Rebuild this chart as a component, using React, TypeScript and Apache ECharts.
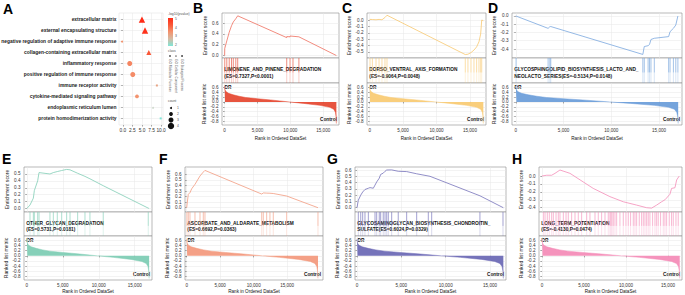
import React, { useEffect, useRef } from "react";
import * as echarts from "echarts";

// ---------------- Panel A : GO dot plot ----------------
const GO_TERMS = [
  "extracellular matrix",
  "external encapsulating structure",
  "negative regulation of adaptive immune response",
  "collagen-containing extracellular matrix",
  "inflammatory response",
  "positive regulation of immune response",
  "immune receptor activity",
  "cytokine-mediated signaling pathway",
  "endoplasmic reticulum lumen",
  "protein homodimerization activity",
];
const GO_X = [5.0, 5.8, -0.2, 6.8, 1.8, 2.6, 8.9, 3.7, 7.9, 9.9];
const GO_LOGP = [5.0, 4.9, 3.5, 4.3, 3.7, 3.6, 3.2, 3.5, 2.5, 2.0];
const GO_COUNT = [4, 4, 1, 3, 3, 3, 1, 2, 1, 1];
// 0 = BP, 1 = CC, 2 = MF
const GO_CLASS = [1, 1, 0, 1, 0, 0, 2, 0, 1, 2];
const CLASS_NAMES = ["GO Biological Process", "GO Cellular Component", "GO Molecular Function"];
const A_X_TICKS = [0, 2.5, 5, 7.5, 10];
const LOGP_TICKS = [5, 4, 3, 2];
const COUNT_TICKS = [1, 2, 3, 4];

// ---------------- GSEA shared ranked list metric (rank, metric) ----------------
const RANKED_METRIC = [
  [0, 0.66], [60, 0.5], [200, 0.42], [600, 0.35], [1300, 0.29], [2200, 0.23], [3200, 0.18],
  [5000, 0.13], [7000, 0.08], [9800, 0.0], [12000, -0.06], [14500, -0.14], [16000, -0.22],
  [16600, -0.3], [16850, -0.42], [16950, -0.6], [17000, -0.88],
];
const RANKED_N = 17000;
const RANK_TICKS = [0, 5000, 10000, 15000];
const METRIC_TICKS = [-0.8, -0.6, -0.4, -0.2, 0, 0.2, 0.4, 0.6];

// ---------------- B ----------------
const B_TITLE = ["LIMONENE_AND_PINENE_DEGRADATION", "(ES=0.7327,P<0.0001)"];
const B_ES = [
  [0, 0], [20, 0.13], [330, 0.27], [700, 0.43], [1050, 0.55], [1320, 0.62], [1700, 0.68], [1990, 0.733],
  [9450, 0.33], [9450, 0.35], [9950, 0.345], [9950, 0.36], [10400, 0.355], [10400, 0.365],
  [11300, 0.345], [11300, 0.355], [17000, 0],
];
const B_HITS = [20, 330, 700, 1050, 1320, 1700, 1990, 9450, 9950, 10400, 11300];
const B_ES_TICKS = [0, 0.2, 0.4, 0.6];

// ---------------- C ----------------
const C_TITLE = ["DORSO_VENTRAL_AXIS_FORMATION", "(ES=-0.9064,P=0.0048)"];
const C_ES = [
  [0, 0], [50, 0.01], [400, 0.008], [950, 0.004], [1400, 0.01], [1840, 0.004], [2290, 0.04], [2590, 0.075],
  [14300, -0.54], [14700, -0.535], [15150, -0.51], [15600, -0.47], [16000, -0.42], [16350, -0.34],
  [16600, -0.22], [16760, 0.0], [17000, -0.01],
];
const C_HITS = [50, 400, 950, 1400, 1840, 2290, 2590, 14300, 14700, 15150, 15600, 16000, 16350, 16600, 16760];
const C_ES_TICKS = [-0.5, -0.4, -0.3, -0.2, -0.1, 0];

// ---------------- D ----------------
const D_TITLE = ["GLYCOSPHINGOLIPID_BIOSYNTHESIS_LACTO_AND_", "NEOLACTO_SERIES(ES=-0.5134,P=0.0148)"];
const D_ES = [
  [0, 0], [30, 0.002], [3380, -0.15], [3560, -0.13], [3660, -0.128], [13300, -0.466], [13450, -0.37],
  [13850, -0.36], [14000, -0.345], [14150, -0.285], [14500, -0.27], [16000, -0.25], [16150, -0.19],
  [16500, -0.15], [16750, -0.11], [16970, 0.0], [17000, 0.0],
];
const D_HITS = [30, 3380, 3560, 3660, 13300, 13450, 13850, 14000, 14150, 14500, 16000, 16150, 16500, 16750, 16970];
const D_ES_TICKS = [-0.4, -0.3, -0.2, -0.1, 0];

// ---------------- E ----------------
const E_TITLE = ["OTHER_GLYCAN_DEGRADATION", "(ES=0.5731,P=0.0181)"];
const E_ES = [
  [0, 0], [435, 0.05], [900, 0.15], [1040, 0.26], [1500, 0.4], [1690, 0.52], [3210, 0.5], [3680, 0.52],
  [4230, 0.535], [4840, 0.55], [5530, 0.566], [6000, 0.56], [7060, 0.51], [8080, 0.465], [8770, 0.43],
  [10620, 0.33], [16880, 0.005], [17000, 0],
];
const E_HITS = [435, 900, 1040, 1500, 1690, 3210, 3680, 4230, 4840, 5530, 6000, 7060, 8080, 8770, 10620, 16880];
const E_ES_TICKS = [0, 0.1, 0.2, 0.3, 0.4, 0.5];

// ---------------- F ----------------
const F_TITLE = ["ASCORBATE_AND_ALDARATE_METABOLISM", "(ES=0.6692,P=0.0363)"];
const F_ES = [
  [0, 0], [240, 0.24], [490, 0.27], [750, 0.34], [1240, 0.42], [1990, 0.57], [2480, 0.64], [2730, 0.67],
  [11200, 0.245], [11440, 0.265], [11940, 0.262], [12430, 0.26], [12930, 0.255], [14930, 0.21], [19600, 0],
];
const F_HITS = [30, 240, 490, 1240, 1990, 2480, 2730, 11200, 11440, 11940, 12430, 12930, 14930, 19600];
const F_ES_TICKS = [0, 0.1, 0.2, 0.3, 0.4, 0.5, 0.6];

// ---------------- G ----------------
const G_TITLE = ["GLYCOSAMINOGLYCAN_BIOSYNTHESIS_CHONDROITIN_", "SULFATE(ES=0.6024,P=0.0329)"];
const G_ES = [
  [0, 0], [150, 0.12], [420, 0.2], [640, 0.25], [900, 0.29], [1280, 0.31], [1465, 0.32], [1840, 0.31],
  [2030, 0.36], [2220, 0.41], [2510, 0.47], [2670, 0.53], [2960, 0.55], [3160, 0.58], [3350, 0.6],
  [3910, 0.602], [4650, 0.58], [5600, 0.575], [6730, 0.54], [8230, 0.5], [13860, 0.19], [13860, 0.2], [16500, 0],
];
const G_HITS = [150, 420, 640, 900, 1280, 2030, 2220, 2510, 2670, 2960, 3160, 3350, 3530, 3910, 4650, 5600, 6730, 8040, 8420, 13860, 16460];
const G_ES_TICKS = [0, 0.1, 0.2, 0.3, 0.4, 0.5, 0.6];

// ---------------- H ----------------
const H_TITLE = ["LONG_TERM_POTENTIATION", "(ES=-0.4130,P=0.0474)"];
const H_ES = [
  [0, 0], [560, 0.01], [1150, 0.01], [1550, 0.034], [2140, 0.076], [2740, 0.055], [3330, 0.034],
  [6100, -0.156], [8090, -0.26], [9680, -0.325], [11270, -0.367], [12460, -0.4], [13050, -0.405],
  [13650, -0.367], [14240, -0.325], [14640, -0.3], [15230, -0.23], [15430, -0.156], [15830, -0.148],
  [16030, -0.05], [16340, 0.0], [16400, 0.0],
];
const H_HITS = [
  160, 360, 630, 870, 1150, 1350, 1670, 1940, 2140, 2540, 2860, 3130, 3530, 3930, 4320, 4720, 5320, 5710,
  6310, 6700, 7100, 7500, 7890, 8090, 8210, 8330, 8490, 8690, 8890, 9280, 9680, 10000, 10270, 10550, 10870,
  11070, 11270, 11580, 11860, 12060, 12260, 12460, 12650, 12850, 13170, 13450, 13650, 13840, 14120, 14440,
  14640, 14840, 15150, 15430, 15630, 15950, 16220,
];
const H_ES_TICKS = [-0.4, -0.3, -0.2, -0.1, 0];

// ---------------- layout / style ----------------
const FONT = "'Liberation Sans', Arial, Helvetica, sans-serif";
const ROWS = [
  { esTop: 13, esH: 45, hitsH: 25, rankH: 42, xNameGap: 10.5, letterY: 0.5 },
  { esTop: 167, esH: 45, hitsH: 24, rankH: 44, xNameGap: 8.5, letterY: 151.5 },
];
const METRIC_RANGE = [-0.94, 0.77];

const PANELS = [
  { letter: "B", row: 0, left: 222, right: 339, letterX: 193, color: "#E64B35", lineColor: "#EF6F5E", title: B_TITLE, es: B_ES, hits: B_HITS, esTicks: B_ES_TICKS, esRange: [-0.046, 0.785], n: 17000, xRange: [-400, 17400] },
  { letter: "C", row: 0, left: 367, right: 486, letterX: 342, color: "#F9CB75", lineColor: "#F7C86E", title: C_TITLE, es: C_ES, hits: C_HITS, esTicks: C_ES_TICKS, esRange: [-0.594, 0.11], n: 17000, xRange: [-400, 17400] },
  { letter: "D", row: 0, left: 512, right: 682, letterX: 488, color: "#6E9FDA", lineColor: "#7AA7DE", title: D_TITLE, es: D_ES, hits: D_HITS, esTicks: D_ES_TICKS, esRange: [-0.509, 0.036], n: 17000, xRange: [-400, 17400] },
  { letter: "E", row: 1, left: 24, right: 152, letterX: 2, color: "#80CDB5", lineColor: "#80CDB5", title: E_TITLE, es: E_ES, hits: E_HITS, esTicks: E_ES_TICKS, esRange: [-0.051, 0.601], n: 17000, xRange: [-400, 17400] },
  { letter: "F", row: 1, left: 185, right: 323, letterX: 159, color: "#F39B7F", lineColor: "#F39B7F", title: F_TITLE, es: F_ES, hits: F_HITS, esTicks: F_ES_TICKS, esRange: [-0.077, 0.731], n: 19600, xRange: [-250, 20350] },
  { letter: "G", row: 1, left: 355, right: 506, letterX: 327, color: "#6E6BB6", lineColor: "#7672BA", title: G_TITLE, es: G_ES, hits: G_HITS, esTicks: G_ES_TICKS, esRange: [-0.068, 0.648], n: 16500, xRange: [-225, 16800] },
  { letter: "H", row: 1, left: 539, right: 682, letterX: 512, color: "#F48DB8", lineColor: "#F48DB8", title: H_TITLE, es: H_ES, hits: H_HITS, esTicks: H_ES_TICKS, esRange: [-0.454, 0.114], n: 16400, xRange: [-357, 16670] },
];

const LOGP_COLORS = ["#7FE6D7", "#D4BBA4", "#F3946F", "#F95A39", "#FF2B16"];
const CLASS_SYMBOL = ["circle", "triangle", "rect"];
const COUNT_SIZE = [0, 2, 3.8, 5, 6.4];

const GRID_BASE = { show: true, backgroundColor: "#ffffff", borderColor: "#8c8c8c", borderWidth: 0.6, outerBoundsMode: "none", containLabel: false };
const GRIDLINE = { show: true, lineStyle: { color: "#e6e6e6", width: 0.5, type: "solid" } };
const TICK = { show: true, length: 1.6, lineStyle: { color: "#555", width: 0.5 } };

function fmt1(v: number) {
  const r = Math.round(v * 10) / 10;
  return (Math.abs(r) < 1e-9 ? 0 : r).toFixed(1);
}
function fmtRank(v: number) {
  return Math.round(v).toLocaleString("en-US");
}

function txt(x: number, y: number, text: string, o: any = {}) {
  return {
    type: "text",
    x,
    y,
    rotation: o.rotation || 0,
    silent: true,
    style: {
      text,
      fill: o.fill || "#1a1a1a",
      fontSize: o.fontSize || 5,
      fontWeight: o.fontWeight || "normal",
      fontFamily: FONT,
      align: o.align || "left",
      verticalAlign: o.verticalAlign || "middle",
    },
  };
}

function buildOption() {
  const grids: any[] = [];
  const xAxes: any[] = [];
  const yAxes: any[] = [];
  const series: any[] = [];
  const graphics: any[] = [];

  // ---------- Panel A ----------
  grids.push({ ...GRID_BASE, left: 119, top: 13, width: 44, height: 112, borderColor: "#dedede", borderWidth: 0.5 });
  xAxes.push({
    gridIndex: 0, type: "value", min: -1, max: 10.5,
    axisLine: { show: false },
    axisTick: { ...TICK, customValues: A_X_TICKS },
    axisLabel: { customValues: A_X_TICKS, formatter: (v: number) => v.toFixed(1), fontSize: 4.8, color: "#333", margin: 2.5, fontFamily: FONT },
    splitLine: GRIDLINE,
  });
  const rowTicks = GO_TERMS.map((_, i) => i + 1);
  yAxes.push({
    gridIndex: 0, type: "value", min: 0.4, max: GO_TERMS.length + 0.6, inverse: true,
    axisLine: { show: false },
    axisTick: { ...TICK, customValues: rowTicks },
    axisLabel: {
      customValues: rowTicks,
      formatter: (v: number) => GO_TERMS[Math.round(v) - 1] || "",
      fontSize: 4.9, fontWeight: "bold", color: "#1a1a1a", margin: 2.5, fontFamily: FONT,
    },
    splitLine: GRIDLINE,
  });
  series.push({
    type: "scatter", xAxisIndex: 0, yAxisIndex: 0, silent: true,
    data: GO_TERMS.map((_, i) => [GO_X[i], i + 1, GO_LOGP[i], GO_COUNT[i], GO_CLASS[i]]),
    symbol: (v: number[]) => CLASS_SYMBOL[v[4]],
    symbolSize: (v: number[]) => COUNT_SIZE[v[3]],
    itemStyle: { opacity: 1 },
  });

  // A legends
  graphics.push(txt(3, 1.5, "A", { fontSize: 14, fontWeight: "bold", verticalAlign: "top", fill: "#000" }));
  graphics.push(txt(168, 13.5, "-log10(pvalue)", { fontSize: 3.4, fill: "#555" }));
  const cbTop = 18, cbH = 28, cbLo = 1.85, cbHi = 5.15;
  graphics.push({
    type: "rect", silent: true,
    shape: { x: 168, y: cbTop, width: 5, height: cbH },
    style: {
      fill: new echarts.graphic.LinearGradient(0, 0, 0, 1,
        LOGP_COLORS.slice().reverse().map((c, i, a) => ({ offset: i / (a.length - 1), color: c }))),
    },
  });
  LOGP_TICKS.forEach((v) => {
    const y = cbTop + ((cbHi - v) / (cbHi - cbLo)) * cbH;
    graphics.push(txt(175, y, String(v), { fontSize: 3.4, fill: "#555" }));
  });
  graphics.push(txt(168, 51, "class", { fontSize: 3.4, fill: "#555" }));
  // MF left, CC middle, BP right
  const classOrder = [2, 1, 0];
  classOrder.forEach((c, k) => {
    const x = 170 + k * 6;
    if (c === 0) graphics.push({ type: "circle", silent: true, shape: { cx: x, cy: 56, r: 0.8 }, style: { fill: "#222" } });
    if (c === 1) graphics.push({ type: "polygon", silent: true, shape: { points: [[x, 55], [x - 0.9, 56.6], [x + 0.9, 56.6]] }, style: { fill: "#222" } });
    if (c === 2) graphics.push({ type: "rect", silent: true, shape: { x: x - 0.75, y: 55.25, width: 1.5, height: 1.5 }, style: { fill: "#222" } });
    graphics.push(txt(x, 59, CLASS_NAMES[c], { fontSize: 3.2, fill: "#555", rotation: -Math.PI / 2 }));
  });
  graphics.push(txt(168, 101, "count", { fontSize: 3.4, fill: "#555" }));
  COUNT_TICKS.forEach((c, k) => {
    const y = 108 + k * 6;
    graphics.push({ type: "circle", silent: true, shape: { cx: 171, cy: y, r: COUNT_SIZE[c] / 2 }, style: { fill: "#111" } });
    graphics.push(txt(177, y, String(c), { fontSize: 3.4, fill: "#555" }));
  });

  // ---------- GSEA panels ----------
  PANELS.forEach((p) => {
    const row = ROWS[p.row];
    const W = p.right - p.left;
    const hitsTop = row.esTop + row.esH;
    const rankTop = hitsTop + row.hitsH;
    const gi = grids.length;

    grids.push({ ...GRID_BASE, left: p.left, top: row.esTop, width: W, height: row.esH });
    grids.push({ ...GRID_BASE, left: p.left, top: hitsTop, width: W, height: row.hitsH });
    grids.push({ ...GRID_BASE, left: p.left, top: rankTop, width: W, height: row.rankH });

    // ES panel axes
    xAxes.push({
      gridIndex: gi, type: "value", min: p.xRange[0], max: p.xRange[1],
      axisLine: { show: false }, axisTick: { show: false, customValues: RANK_TICKS },
      axisLabel: { show: false }, splitLine: GRIDLINE,
    });
    yAxes.push({
      gridIndex: gi, type: "value", min: p.esRange[0], max: p.esRange[1],
      axisLine: { show: false },
      axisTick: { ...TICK, customValues: p.esTicks },
      axisLabel: { customValues: p.esTicks, formatter: fmt1, fontSize: 4.6, color: "#333", margin: 3.5, fontFamily: FONT },
      splitLine: GRIDLINE,
      name: "Enrichment score", nameLocation: "middle", nameGap: 14.5,
      nameTextStyle: { fontSize: 5.1, color: "#1a1a1a", fontFamily: FONT },
    });
    // hits panel axes
    xAxes.push({
      gridIndex: gi + 1, type: "value", min: p.xRange[0], max: p.xRange[1],
      axisLine: { show: false }, axisTick: { show: false }, axisLabel: { show: false }, splitLine: { show: false },
    });
    yAxes.push({
      gridIndex: gi + 1, type: "value", min: 0, max: 1,
      axisLine: { show: false }, axisTick: { show: false }, axisLabel: { show: false }, splitLine: { show: false },
    });
    // ranked panel axes
    xAxes.push({
      gridIndex: gi + 2, type: "value", min: p.xRange[0], max: p.xRange[1],
      axisLine: { show: false },
      axisTick: { ...TICK, customValues: RANK_TICKS },
      axisLabel: { customValues: RANK_TICKS, formatter: fmtRank, fontSize: 4.6, color: "#333", margin: 2.8, fontFamily: FONT },
      splitLine: GRIDLINE,
      name: "Rank in Ordered DataSet", nameLocation: "middle", nameGap: row.xNameGap,
      nameTextStyle: { fontSize: 4.6, color: "#111", fontFamily: FONT, verticalAlign: "top" },
    });
    yAxes.push({
      gridIndex: gi + 2, type: "value", min: METRIC_RANGE[0], max: METRIC_RANGE[1],
      axisLine: { show: false },
      axisTick: { ...TICK, customValues: METRIC_TICKS },
      axisLabel: { customValues: METRIC_TICKS, formatter: fmt1, fontSize: 4.6, color: "#333", margin: 3.5, fontFamily: FONT },
      splitLine: GRIDLINE,
      name: "Ranked list metric", nameLocation: "middle", nameGap: 14.5,
      nameTextStyle: { fontSize: 5.1, color: "#1a1a1a", fontFamily: FONT },
    });

    series.push({
      type: "line", xAxisIndex: gi, yAxisIndex: gi, data: p.es, showSymbol: false, symbol: "none",
      silent: true, lineStyle: { color: p.lineColor, width: 0.8 }, z: 3,
    });
    const color = p.color;
    series.push({
      type: "custom", xAxisIndex: gi + 1, yAxisIndex: gi + 1, silent: true, clip: true,
      data: p.hits.map((h) => [h, 0]),
      encode: { x: 0, y: 1 },
      renderItem: (_params: any, api: any) => {
        const x = api.value(0);
        const a = api.coord([x, 0]);
        const m = api.coord([x, 0.42]);
        const b = api.coord([x, 1]);
        return {
          type: "group",
          children: [
            { type: "line", shape: { x1: a[0], y1: a[1], x2: m[0], y2: m[1] }, style: { stroke: color, lineWidth: 0.75, opacity: 0.35 } },
            { type: "line", shape: { x1: m[0], y1: m[1], x2: b[0], y2: b[1] }, style: { stroke: color, lineWidth: 0.75, opacity: 0.85 } },
          ],
        };
      },
    });
    const scale = p.n / RANKED_N;
    series.push({
      type: "line", xAxisIndex: gi + 2, yAxisIndex: gi + 2, silent: true,
      data: RANKED_METRIC.map(([r, v]) => [r * scale, v]),
      showSymbol: false, symbol: "none",
      lineStyle: { color: p.color, width: 0.5 },
      areaStyle: { color: p.color, opacity: 0.95, origin: 0 },
    });

    // annotations
    graphics.push(txt(p.letterX, row.letterY, p.letter, { fontSize: 14, fontWeight: "bold", verticalAlign: "top", fill: "#000" }));
    const ty = hitsTop + row.hitsH * 0.47;
    graphics.push(txt(p.left + 2.3, ty, p.title[0], { fontSize: 4.8, fontWeight: "bold", fill: "#111" }));
    graphics.push(txt(p.left + 2.3, ty + 6.4, p.title[1], { fontSize: 4.8, fontWeight: "bold", fill: "#111" }));
    graphics.push(txt(p.left + 2.5, rankTop + 4.2, "DR", { fontSize: 4.8, fontWeight: "bold", fill: "#111" }));
    graphics.push(txt(p.right - 2, rankTop + row.rankH - 6, "Control", { fontSize: 4.8, fontWeight: "bold", fill: "#111", align: "right" }));
  });

  return {
    animation: false,
    backgroundColor: "#ffffff",
    textStyle: { fontFamily: FONT },
    tooltip: { show: false },
    grid: grids,
    xAxis: xAxes,
    yAxis: yAxes,
    visualMap: [{
      type: "continuous", show: false, seriesIndex: 0, dimension: 2, min: 2, max: 5,
      inRange: { color: LOGP_COLORS },
    }],
    series,
    graphic: { elements: graphics },
  };
}

export default function App() {
  const ref = useRef<HTMLDivElement>(null);
  useEffect(() => {
    const prev = document.body.style.margin;
    document.body.style.margin = "0";
    const chart = echarts.init(ref.current as HTMLDivElement, undefined, { renderer: "svg" });
    chart.setOption(buildOption() as any);
    return () => {
      chart.dispose();
      document.body.style.margin = prev;
    };
  }, []);
  return (
    <div
      ref={ref}
      style={{ position: "absolute", left: 0, top: 0, width: 685, height: 295, background: "#ffffff" }}
    />
  );
}
